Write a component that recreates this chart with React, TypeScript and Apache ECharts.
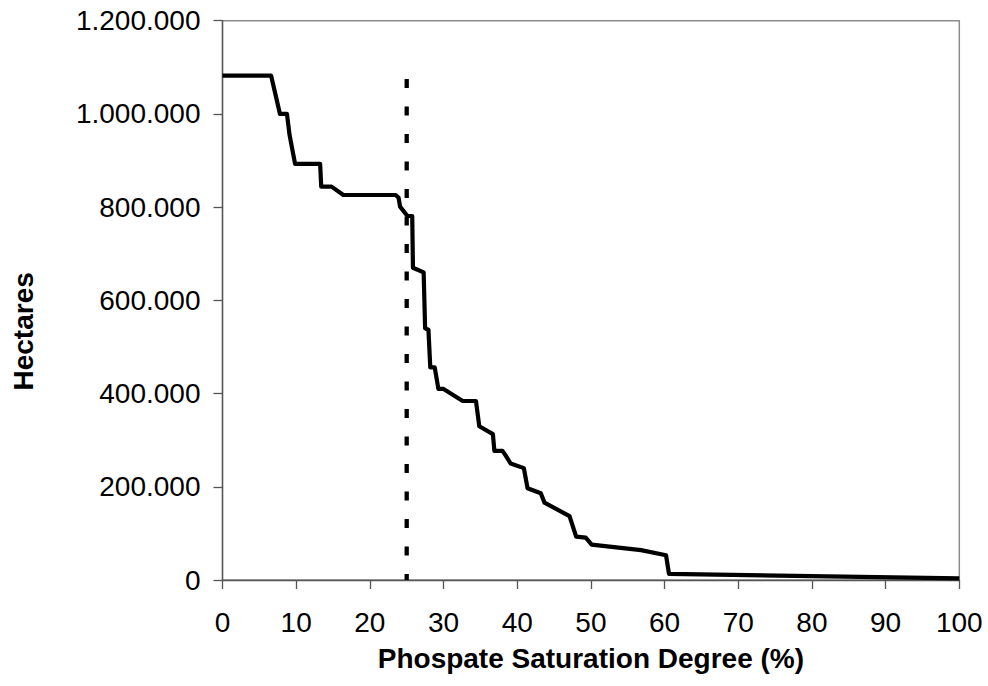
import React, { useEffect, useRef } from "react";
import * as echarts from "echarts";

// Phosphate saturation degree (%) — x values of the curve
const phosSat = [
  0, 6.6, 7.8, 8.75, 9.1, 9.85, 13.25, 13.4, 14.8, 16.4, 23.5, 23.9, 24.1, 25.1, 25.75,
  25.85, 27.3, 27.5, 27.95, 28.2, 28.8, 29.3, 30.0, 32.6, 34.4, 34.85, 36.7, 36.9, 38.0,
  38.4, 39.1, 40.9, 41.4, 43.2, 43.7, 47.1, 48.0, 49.3, 50.1, 56.8, 60.2, 60.6, 100,
];
// Hectares — y values of the curve
const hectares = [
  1082000, 1082000, 1000000, 1000000, 955000, 893000, 893000, 844000, 844000, 826000, 826000,
  820000, 801000, 781000, 781000, 670000, 660000, 540000, 537000, 456000, 456000, 410000,
  410000, 384000, 384000, 330000, 313000, 277000, 277000, 268000, 250000, 240000, 197000,
  186000, 166000, 137000, 93000, 91000, 76000, 64000, 53000, 13000, 3500,
];
// Threshold marker (dashed vertical line)
const thresholdX = [25, 25];
const thresholdY = [1075000, 0];

const xTickLabels = ["0", "10", "20", "30", "40", "50", "60", "70", "80", "90", "100"];
const yTickLabels = ["0", "200.000", "400.000", "600.000", "800.000", "1.000.000", "1.200.000"];

const FONT = "'Liberation Sans', Arial, Helvetica, sans-serif";

export default function App() {
  const ref = useRef<HTMLDivElement>(null);
  useEffect(() => {
    if (!ref.current) return;
    const chart = echarts.init(ref.current, null, { renderer: "svg" });
    const curve = phosSat.map((x, i) => [x, hectares[i]]);
    const thr = thresholdX.map((x, i) => [x, thresholdY[i]]);
    chart.setOption({
      animation: false,
      backgroundColor: "#ffffff",
      grid: {
        left: 222.5,
        top: 20.7,
        right: 28.7,
        bottom: 106,
        show: true,
        borderColor: "#8c8c8c",
        borderWidth: 1.5,
      },
      xAxis: {
        type: "value",
        min: 0,
        max: 100,
        interval: 10,
        name: "Phospate Saturation Degree (%)",
        nameLocation: "middle",
        nameGap: 64,
        nameTextStyle: { fontFamily: FONT, fontSize: 28, fontWeight: "bold", color: "#000" },
        axisLine: { show: true, lineStyle: { color: "#555", width: 1.3 } },
        axisTick: { show: true, inside: false, length: 9, lineStyle: { color: "#555", width: 1.3 } },
        axisLabel: {
          margin: 28,
          fontFamily: FONT,
          fontSize: 28,
          color: "#000",
          formatter: (v: number) => xTickLabels[Math.round(v / 10)] ?? "",
        },
        splitLine: { show: false },
      },
      yAxis: {
        type: "value",
        min: 0,
        max: 1200000,
        interval: 200000,
        name: "Hectares",
        nameLocation: "middle",
        nameGap: 185,
        nameRotate: 90,
        nameTextStyle: {
          fontFamily: FONT,
          fontSize: 28,
          fontWeight: "bold",
          color: "#000",
          padding: [0, 62, 0, 0],
        },
        axisLine: { show: true, lineStyle: { color: "#555", width: 1.3 } },
        axisTick: { show: true, inside: false, length: 9, lineStyle: { color: "#555", width: 1.3 } },
        axisLabel: {
          margin: 22,
          fontFamily: FONT,
          fontSize: 28,
          color: "#000",
          formatter: (v: number) => yTickLabels[Math.round(v / 200000)] ?? "",
        },
        splitLine: { show: false },
      },
      series: [
        {
          type: "line",
          data: curve,
          showSymbol: false,
          symbol: "none",
          lineStyle: { color: "#000", width: 4.2, join: "round", cap: "butt" },
          z: 2,
        },
        {
          type: "line",
          data: thr,
          showSymbol: false,
          symbol: "none",
          lineStyle: { color: "#000", width: 4.3, type: [9, 18.5], cap: "butt" },
          z: 3,
        },
      ],
    });
    return () => chart.dispose();
  }, []);
  return (
    <div
      ref={ref}
      style={{ position: "fixed", left: 0, top: 0, width: 988, height: 686, background: "#fff" }}
    />
  );
}
